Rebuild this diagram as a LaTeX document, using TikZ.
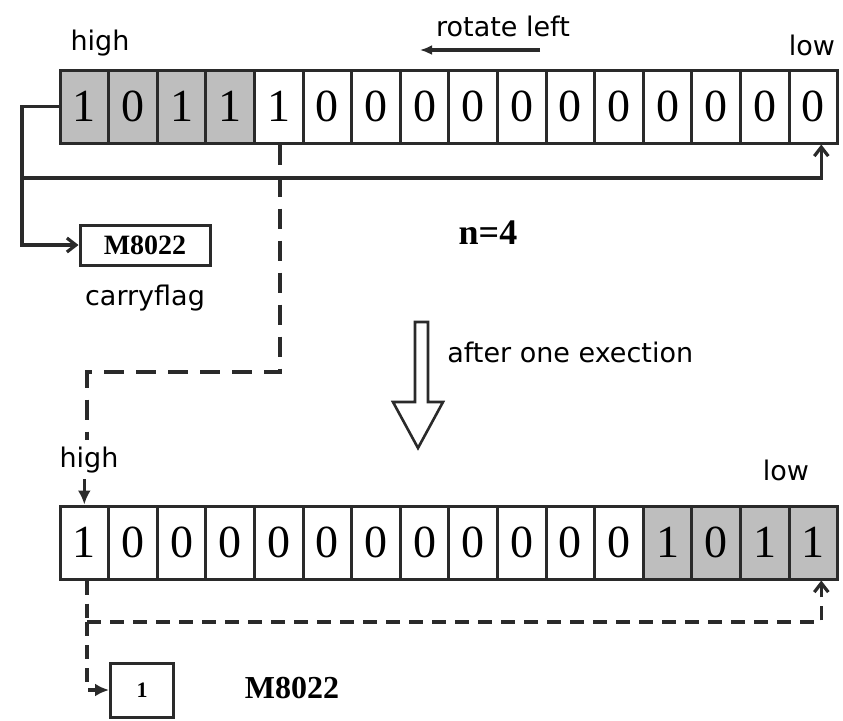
\documentclass[tikz,border=0pt]{standalone}
\usepackage{fontspec}
\setmainfont{Liberation Serif}
\newfontfamily\labelfont{DejaVu Sans}
\usetikzlibrary{arrows.meta,positioning,calc}
\definecolor{ink}{HTML}{2A2A2A}
\definecolor{shade}{HTML}{BEBEBE}
\tikzset{cell/.style={draw=ink,line width=1.5pt,minimum width=24.3pt,minimum height=36.5pt,
    inner sep=0pt,font=\fontsize{23}{23}\selectfont},
  hot/.style={cell,fill=shade},
  lbl/.style={font=\labelfont\fontsize{13.5}{13.5}\selectfont,inner sep=0pt},
  link/.style={line width=1.6pt,draw=ink},
  dlink/.style={link,dash pattern=on 10pt off 6pt},
  dlinkb/.style={link,dash pattern=on 7pt off 4.5pt},
  flag/.style={draw=ink,line width=1.5pt,inner sep=0pt,font=\bfseries\fontsize{14}{14}\selectfont},
  open/.style={-{Straight Barb[length=4.5pt,width=7pt]}},
  solid tip/.style={-{Latex[length=7pt,width=6.5pt]}}}
% one register of 16 bits, shaded from #4 to #5
\newcommand{\bitrow}[5]{%
\foreach \b [count=\i] in {#3}{
 \pgfmathtruncatemacro{\inside}{and(\i>=#4,\i<=#5)}
 \ifnum\inside=1 \def\sty{hot}\else\def\sty{cell}\fi
 \node[\sty] (#1\i) at (60+48.6*\i-24.3,#2) {\b};
}}

\begin{document}
\begin{tikzpicture}[x=0.5pt,y=-0.5pt]
\useasboundingbox (0,0) rectangle (843,720);
% before
\bitrow{t}{106.5}{1,0,1,1,1,0,0,0,0,0,0,0,0,0,0,0}{1}{4}
\node[lbl] (hiA) at (100,43) {high};
\node[lbl] (loA) at (812,45) {low};
\node[lbl] (rot) at (503,26) {rotate left};
\coordinate (rotS) at (540,50);
\coordinate (rotE) at (420,50);
\draw[link,-{Latex[length=6pt,width=5pt]}] (rotS) -- (rotE);
\node[flag,minimum width=65pt,minimum height=20pt] (cf) at (145,245) {M8022};
\node[lbl] (cfl) at (145,298) {carryflag};
\node[font=\bfseries\fontsize{18}{18}\selectfont] (nn) at (488,233) {n=4};
\coordinate (tapT) at (22,106.5);
\coordinate (tapJ) at (22,178);
\coordinate (endT) at ($(t16.south)+(8,0)$);
\draw[link,open] (t1.west) -- (tapT) |- (cf.west);
\draw[link,open] (tapJ) -| (endT);
% carry path of bit 5
\coordinate (dropA) at (280,372);
\coordinate (dropB) at (87,372);
\coordinate (dropC) at (87,440);
\draw[dlink] (t5.south -| dropA) -- (dropA) -- (dropB) -- (dropC);
% step arrow
\draw[ink,line width=1.3pt] (415,322) -- (428,322) -- (428,402) -- (443,402) -- (418,448)
  -- (393,402) -- (415,402) -- cycle;
\node[lbl,anchor=west] (step) at (447,352) {after one exection};
% after
\bitrow{b}{542.5}{1,0,0,0,0,0,0,0,0,0,0,0,1,0,1,1}{13}{16}
\node[lbl] (hiB) at (89,460) {high};
\node[lbl] (loB) at (786,470) {low};
\draw[link,solid tip] (hiB.south -| b1.north) ++(0,6) -- (b1.north);
\node[flag,minimum width=31.5pt,minimum height=27pt,font=\bfseries\fontsize{11}{11}\selectfont] (cb) at (142,690) {1};
\node[font=\bfseries\fontsize{16}{16}\selectfont] (cbl) at (292,688) {M8022};
\coordinate (tapB) at (87,622);
\coordinate (endB) at ($(b16.south)+(8,0)$);
\draw[dlinkb] (b1.south -| tapB) -- (tapB);
\draw[dlinkb,open] (tapB) -| (endB);
\draw[dlinkb,solid tip] (tapB) |- (cb.west);
\end{tikzpicture}
\end{document}
